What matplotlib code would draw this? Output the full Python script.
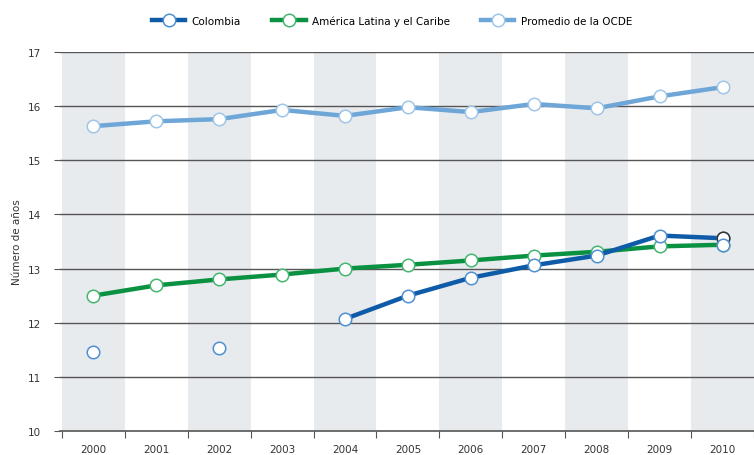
import numpy as np
import matplotlib.pyplot as plt
from matplotlib.lines import Line2D

years = np.arange(2000, 2011)
colombia = [11.46, np.nan, 11.54, np.nan, 12.07, 12.50, 12.83, 13.06, 13.24, 13.61, 13.56]
latam = [12.50, 12.69, 12.80, 12.89, 13.00, 13.07, 13.15, 13.24, 13.31, 13.41, 13.44]
ocde = [15.63, 15.72, 15.76, 15.93, 15.82, 15.98, 15.89, 16.04, 15.96, 16.18, 16.35]

c_col, e_col = '#0e5ba8', '#4f90d2'
c_lat, e_lat = '#0b9142', '#45b66f'
c_oc, e_oc = '#6ea6d8', '#9fc5e8'

fig = plt.figure(figsize=(7.54, 4.56), dpi=100)
ax = fig.add_axes([0.0796, 0.0526, 0.9204, 0.8312])

ax.set_xlim(1999.47, 2010.33)
ax.set_ylim(10, 17)

# alternating bands
for y in years[::2]:
    ax.axvspan(y - 0.5, y + 0.5, color='#e8ebee', lw=0, zorder=0)

for v in range(11, 18):
    ax.axhline(v, color='#555555', lw=1.0, zorder=1)

mk = dict(marker='o', markersize=9, markerfacecolor='white', markeredgewidth=1.1)
ax.plot(years, ocde, color=c_oc, lw=3.2, markeredgecolor=e_oc, zorder=3, **mk)
ax.plot(years, latam, color=c_lat, lw=3.2, markeredgecolor=e_lat, zorder=3, **mk)
ax.plot(years, colombia, color=c_col, lw=3.2, markeredgecolor=e_col, zorder=4, **mk)
# overlapping markers at 2010
ax.plot(years[-1], colombia[-1], marker='o', markersize=9, markerfacecolor='white',
        markeredgecolor='#333333', markeredgewidth=1.1, zorder=5)
ax.plot(years[-1], latam[-1], marker='o', markersize=9, markerfacecolor='white',
        markeredgecolor=e_col, markeredgewidth=1.1, zorder=6)

for s in ['top', 'right', 'left']:
    ax.spines[s].set_visible(False)
ax.spines['bottom'].set_color('#555555')
ax.spines['bottom'].set_linewidth(1.2)

ax.set_yticks(range(10, 18))
ax.tick_params(axis='y', length=4, color='#555555', labelsize=7.5, labelcolor='#333333', pad=10)
ax.set_xticks(np.arange(1999.5, 2010.6, 1))
ax.set_xticklabels([])
ax.set_xticks(years, minor=True)
ax.set_xticklabels([str(y) for y in years], minor=True, fontsize=7.5, color='#333333')
ax.tick_params(axis='x', which='major', length=5, color='#555555', direction='out')
ax.tick_params(axis='x', which='minor', length=0, pad=9)

ax.set_ylabel('Número de años', fontsize=7.5, color='#333333', labelpad=4)

handles = [
    Line2D([0], [0], color=c_col, lw=3.2, markeredgecolor=e_col, **mk),
    Line2D([0], [0], color=c_lat, lw=3.2, markeredgecolor=e_lat, **mk),
    Line2D([0], [0], color=c_oc, lw=3.2, markeredgecolor=e_oc, **mk),
]
fig.legend(handles, ['Colombia', 'América Latina y el Caribe', 'Promedio de la OCDE'],
           loc='upper center', bbox_to_anchor=(0.52, 0.985), ncol=3, frameon=False,
           fontsize=7.5, handlelength=3.2, columnspacing=3.0, handletextpad=0.6)

fig.savefig('out.png', dpi=100)
